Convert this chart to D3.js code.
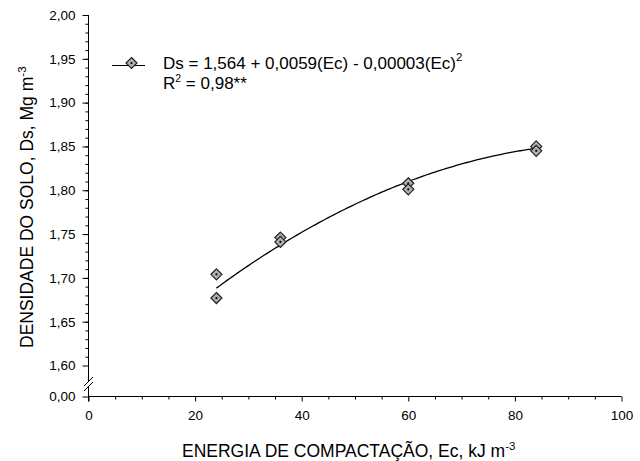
<!DOCTYPE html>
<html>
<head>
<meta charset="utf-8">
<script src="https://cdn.jsdelivr.net/npm/d3@7"></script>
<style>
  html, body { margin: 0; padding: 0; background: #fff; }
  svg { display: block; }
  text { font-family: "Liberation Sans", Arial, sans-serif; fill: #000; }
</style>
</head>
<body>
<svg id="chart" width="640" height="461"></svg>
<script>
// ---- data ----
const energy  = [24, 24, 36, 36, 60, 60, 84, 84];
const density = [1.704, 1.677, 1.746, 1.741, 1.808, 1.801, 1.850, 1.845];
const coefficients = [1.564, 0.0059, -0.00003];   // Ds = a + b*Ec + c*Ec^2
const fitRange = [24, 84];
const xTicks = [0, 20, 40, 60, 80, 100];
const yTicks = [0.00, 1.60, 1.65, 1.70, 1.75, 1.80, 1.85, 1.90, 1.95, 2.00];
const legendEquation = "Ds = 1,564 + 0,0059(Ec) - 0,00003(Ec)";
const legendR2 = "= 0,98**";

// ---- layout ----
const svg = d3.select("#chart");
const x = d3.scaleLinear().domain([0, 100]).range([88.5, 621.5]);
const y = d3.scaleLinear().domain([0, 1.6, 2.0]).range([396.5, 365.5, 15]);
const fmt = d => d3.format(".2f")(d).replace(".", ",");

// ---- x axis ----
const gx = svg.append("g").attr("transform", `translate(0,${y(0)})`);
gx.call(d3.axisBottom(x).tickValues(xTicks).tickSize(5).tickPadding(9).tickFormat(d3.format("d")))
  .call(g => g.select(".domain").remove());
gx.selectAll("text").style("font-size", "13.5px").style("font-family", '"Liberation Sans", Arial, sans-serif');
gx.selectAll("line").attr("stroke", "#000");
gx.append("g").call(d3.axisBottom(x).tickValues(d3.range(5, 100, 5).filter(v => v % 20)).tickSize(3).tickFormat(""))
  .call(g => g.select(".domain").remove());
gx.append("line").attr("x1", x(0)).attr("x2", x(100)).attr("y1", 0).attr("y2", 0).attr("stroke", "#000");

// ---- y axis ----
const gy = svg.append("g").attr("transform", `translate(${x(0)},0)`);
gy.call(d3.axisLeft(y).tickValues(yTicks).tickSize(6).tickPadding(7).tickFormat(fmt))
  .call(g => g.select(".domain").remove());
gy.selectAll("text").style("font-size", "13.5px").style("font-family", '"Liberation Sans", Arial, sans-serif');
gy.append("g").call(d3.axisLeft(y).tickValues(d3.range(161, 200, 1).map(v => v / 100)).tickSize(3).tickFormat(""))
  .call(g => g.select(".domain").remove());
// axis line with break
const breakTop = y(0) - 15, breakBot = y(0) - 10;
gy.append("line").attr("x1", 0).attr("x2", 0).attr("y1", y(2.0)).attr("y2", breakTop).attr("stroke", "#000");
gy.append("line").attr("x1", 0).attr("x2", 0).attr("y1", breakBot).attr("y2", y(0) + 5).attr("stroke", "#000");
[breakTop, breakBot].forEach(b => {
  gy.append("line").attr("x1", -4.5).attr("x2", 4.5).attr("y1", b + 4.5).attr("y2", b - 4.5)
    .attr("stroke", "#000").attr("stroke-width", 1);
});

// ---- fitted curve ----
const curveX = d3.range(fitRange[0], fitRange[1] + 0.001, 0.5);
const fit = e => coefficients[0] + coefficients[1] * e + coefficients[2] * e * e;
svg.append("path")
  .datum(curveX)
  .attr("d", d3.line().x(d => x(d)).y(d => y(fit(d))))
  .attr("fill", "none").attr("stroke", "#000").attr("stroke-width", 1.3);

// ---- markers ----
function marker(g, cx, cy) {
  const s = 5.5;
  g.append("path")
    .attr("d", `M${cx},${cy - s}L${cx + s},${cy}L${cx},${cy + s}L${cx - s},${cy}Z`)
    .attr("fill", "#b0b0b0").attr("stroke", "#202020").attr("stroke-width", 1.2);
  g.append("circle").attr("cx", cx).attr("cy", cy).attr("r", 1.1).attr("fill", "#000");
}
const gm = svg.append("g");
energy.forEach((e, i) => marker(gm, x(e), y(density[i])));

// ---- legend ----
const lg = svg.append("g");
lg.append("line").attr("x1", 112).attr("x2", 145).attr("y1", 65.5).attr("y2", 65.5).attr("stroke", "#000").attr("stroke-width", 1.2);
marker(lg, 131.5, 63);
const t1 = lg.append("text").attr("x", 163).attr("y", 68.5).style("font-size", "17px");
t1.append("tspan").text(legendEquation);
t1.append("tspan").attr("dy", -8).style("font-size", "11.5px").text("2");
const t2 = lg.append("text").attr("x", 163).attr("y", 89).style("font-size", "17px");
t2.append("tspan").text("R");
t2.append("tspan").attr("dy", -7).style("font-size", "10.5px").text("2");
t2.append("tspan").attr("dy", 7).text(" " + legendR2);

// ---- axis titles ----
const xt = svg.append("text").attr("x", 182).attr("y", 456.5).style("font-size", "17.5px");
xt.append("tspan").text("ENERGIA DE COMPACTAÇÃO, Ec, kJ m");
xt.append("tspan").attr("dy", -7).style("font-size", "11.5px").text("-3");

const yt = svg.append("text").attr("transform", "translate(32.5,348) rotate(-90)").style("font-size", "17.5px");
yt.append("tspan").text("DENSIDADE DO SOLO, Ds, Mg m");
yt.append("tspan").attr("dy", -7).style("font-size", "11.5px").text("-3");
</script>
</body>
</html>
